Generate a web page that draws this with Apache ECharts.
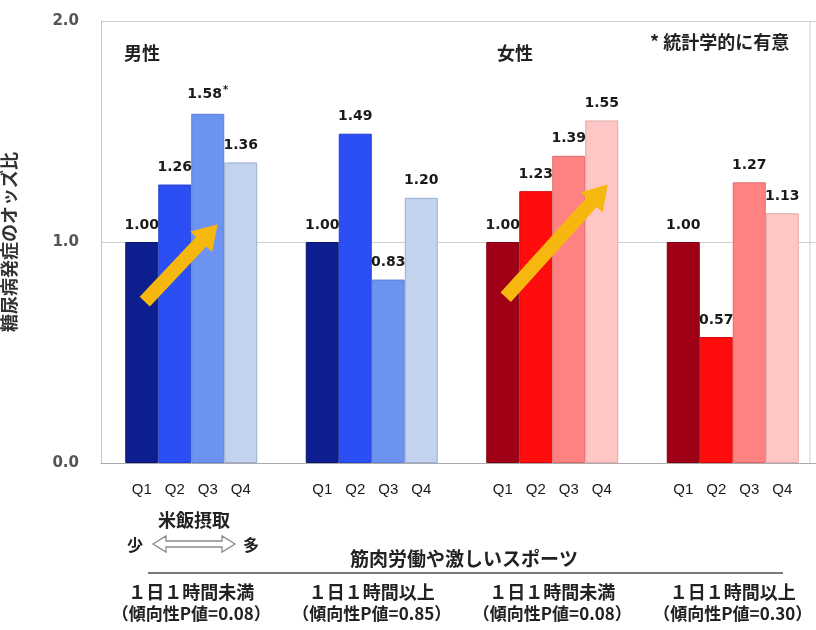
<!DOCTYPE html>
<html>
<head>
<meta charset="utf-8">
<script src="https://cdn.jsdelivr.net/npm/echarts@6/dist/echarts.min.js"></script>
<style>
html,body{margin:0;padding:0;background:#fff;}
#chart{width:816px;height:630px;}
</style>
</head>
<body>
<div id="chart"></div>
<script>
// ---- data ----
const groups = ['男性・1日1時間未満', '男性・1日1時間以上', '女性・1日1時間未満', '女性・1日1時間以上'];
const quartiles = ['Q1', 'Q2', 'Q3', 'Q4'];
const q1Values = [1.00, 1.00, 1.00, 1.00];
const q2Values = [1.26, 1.49, 1.23, 0.57];
const q3Values = [1.58, 0.83, 1.39, 1.27];
const q4Values = [1.36, 1.20, 1.55, 1.13];
const significant = [[false,false,false,false],[false,false,false,false],[true,false,false,false],[false,false,false,false]]; // [quartile][group]
const yTicks = [0, 1, 2];
const exerciseLabels = ['１日１時間未満', '１日１時間以上', '１日１時間未満', '１日１時間以上'];
const trendLabels = ['（傾向性P値=0.08）', '（傾向性P値=0.85）', '（傾向性P値=0.08）', '（傾向性P値=0.30）'];
const maleColors = ['#0d1f8f', '#2b4ef5', '#6c93f2', '#c3d3ee'];
const femaleColors = ['#a00016', '#ff0c0c', '#ff8282', '#ffc6c6'];
const borderMale = ['#0a1870', '#2342cc', '#5a80d8', '#9aaed0'];
const borderFemale = ['#800012', '#d80808', '#e06a6a', '#e0a8a8'];

const allValues = [q1Values, q2Values, q3Values, q4Values];

const chart = echarts.init(document.getElementById('chart'), null, {renderer: 'canvas'});
const CJK = '"Noto Sans CJK JP", "Noto Sans", sans-serif';
const BAR_W = 33;

const series = allValues.map((vals, qi) => ({
  name: quartiles[qi],
  type: 'bar',
  barWidth: BAR_W,
  barGap: '0%',
  z: 3,
  data: vals.map((v, gi) => ({
    value: v,
    itemStyle: {
      color: gi < 2 ? maleColors[qi] : femaleColors[qi],
      borderColor: gi < 2 ? borderMale[qi] : borderFemale[qi],
      borderWidth: 1
    },
    label: {
      formatter: significant[qi][gi] ? '{v|' + v.toFixed(2) + '}{s|*}' : '{v|' + v.toFixed(2) + '}'
    }
  })),
  label: {
    show: true,
    position: 'top',
    distance: 10,
    rich: {
      v: {fontFamily: '"DejaVu Sans", Verdana, sans-serif', fontSize: 14, fontWeight: 'bold', color: '#1a1a1a'},
      s: {fontFamily: '"DejaVu Sans", sans-serif', fontSize: 10, fontWeight: 'bold', color: '#1a1a1a', verticalAlign: 'top', padding: [0,0,8,1]}
    }
  }
}));

const option = {
  animation: false,
  backgroundColor: '#fff',
  grid: {left: 101, right: -7, top: 21, bottom: 167, containLabel: false, outerBoundsMode: 'none'},
  xAxis: {
    type: 'category',
    data: groups,
    axisLine: {show: true, lineStyle: {color: '#aaa', width: 1}},
    axisTick: {show: false},
    axisLabel: {
      margin: 19,
      formatter: function () {
        return quartiles.map(q => '{q|' + q + '}').join('');
      },
      rich: {
        q: {width: BAR_W, align: 'center', fontFamily: '"Liberation Sans", Arial, sans-serif', fontSize: 15, color: '#1a1a1a'}
      }
    }
  },
  yAxis: {
    type: 'value',
    min: yTicks[0],
    max: yTicks[yTicks.length - 1],
    interval: 1,
    name: '糖尿病発症のオッズ比',
    nameLocation: 'middle',
    nameRotate: 90,
    nameGap: 83,
    nameTextStyle: {fontFamily: CJK, fontSize: 18, fontWeight: 'bold', color: '#333'},
    axisLine: {show: true, lineStyle: {color: '#c4c4c4'}},
    axisTick: {show: false},
    axisLabel: {
      margin: 22,
      formatter: v => v.toFixed(1),
      fontFamily: '"DejaVu Sans", sans-serif',
      fontSize: 15,
      fontWeight: 'bold',
      color: '#555'
    },
    splitLine: {show: true, lineStyle: {color: '#cfcfcf', width: 1}}
  },
  series: series
};
chart.setOption(option);

// ---- annotations (positioned through the chart's scales) ----
function px(gi, qPos, value) {
  const c = chart.convertToPixel({gridIndex: 0}, [groups[gi], value]);
  return [c[0] + (qPos - 1.5) * BAR_W, c[1]];
}
function arrowPts(p1, p2, sw, hw, hl) {
  const dx = p2[0] - p1[0], dy = p2[1] - p1[1];
  const L = Math.hypot(dx, dy);
  const ux = dx / L, uy = dy / L, nx = -uy, ny = ux;
  const bx = p2[0] - ux * hl, by = p2[1] - uy * hl;
  return [
    [p1[0] + nx * sw, p1[1] + ny * sw],
    [bx + nx * sw, by + ny * sw],
    [bx + nx * hw, by + ny * hw],
    [p2[0], p2[1]],
    [bx - nx * hw, by - ny * hw],
    [bx - nx * sw, by - ny * sw],
    [p1[0] - nx * sw, p1[1] - ny * sw]
  ];
}
const arrowColor = '#f6b80e';
const a1 = arrowPts(px(0, 0.09, 0.73), px(0, 2.3, 1.08), 7, 15, 24);
const a2 = arrowPts(px(2, 0.09, 0.75), px(2, 3.18, 1.26), 7, 15, 24);

const gridTop = chart.convertToPixel({yAxisIndex: 0}, 2);
const gridBottom = chart.convertToPixel({yAxisIndex: 0}, 0);
const groupX = groups.map((g, gi) => chart.convertToPixel({xAxisIndex: 0}, g));

const elements = [
  {type: 'polygon', shape: {points: a1}, style: {fill: arrowColor}, z: 10},
  {type: 'polygon', shape: {points: a2}, style: {fill: arrowColor}, z: 10},
  // right frame
  {type: 'line', shape: {x1: 810, y1: gridTop, x2: 810, y2: gridBottom}, style: {stroke: '#cfcfcf', lineWidth: 1}, z: 1},
  // titles
  {type: 'text', left: 124, top: 44, style: {text: '男性', font: 'bold 18px ' + CJK, fill: '#222'}, z: 10},
  {type: 'text', left: 497, top: 44, style: {text: '女性', font: 'bold 18px ' + CJK, fill: '#222'}, z: 10},
  {type: 'text', left: 650, top: 33, style: {text: '* 統計学的に有意', font: 'bold 18px ' + CJK, fill: '#222'}, z: 10},
  // rice intake
  {type: 'text', x: 194, y: 520, style: {text: '米飯摂取', font: 'bold 18px ' + CJK, fill: '#222', align: 'center', verticalAlign: 'middle'}, z: 10},
  {type: 'text', x: 135, y: 545, style: {text: '少', font: 'bold 16px ' + CJK, fill: '#222', align: 'center', verticalAlign: 'middle'}, z: 10},
  {type: 'text', x: 251, y: 545, style: {text: '多', font: 'bold 16px ' + CJK, fill: '#222', align: 'center', verticalAlign: 'middle'}, z: 10},
  {type: 'polygon', shape: {points: [[153,544],[166,536],[166,541],[222,541],[222,536],[235,544],[222,552],[222,547],[166,547],[166,552]]},
    style: {fill: '#fff', stroke: '#8a8a8a', lineWidth: 1.3}, z: 10},
  // exercise header
  {type: 'text', x: 464, y: 559, style: {text: '筋肉労働や激しいスポーツ', font: 'bold 19px ' + CJK, fill: '#222', align: 'center', verticalAlign: 'middle'}, z: 10},
  {type: 'line', shape: {x1: 148, y1: 573, x2: 783, y2: 573}, style: {stroke: '#7a7a7a', lineWidth: 2}, z: 10}
];
groups.forEach((g, gi) => {
  elements.push({type: 'text', x: groupX[gi], y: 592, style: {text: exerciseLabels[gi], font: 'bold 18px ' + CJK, fill: '#222', align: 'center', verticalAlign: 'middle'}, z: 10});
  elements.push({type: 'text', x: groupX[gi], y: 614, style: {text: trendLabels[gi], font: 'bold 17px ' + CJK, fill: '#222', align: 'center', verticalAlign: 'middle'}, z: 10});
});
chart.setOption({graphic: {elements: elements}});
</script>
</body>
</html>
